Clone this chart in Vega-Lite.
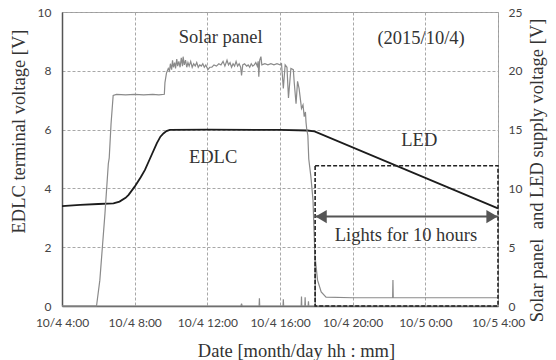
{
  "$schema": "https://vega.github.io/schema/vega-lite/v6.json",
  "width": 436,
  "height": 294,
  "autosize": {"type": "none"},
  "padding": {"left": 62, "top": 12, "right": 58, "bottom": 54},
  "background": "white",
  "config": {
    "view": {"stroke": "#9a9a9a", "strokeWidth": 1},
    "axis": {
      "labelFont": "Lato",
      "labelFontSize": 12,
      "labelColor": "#444444",
      "titleFont": "Liberation Serif, Times New Roman, DejaVu Serif, serif",
      "titleFontSize": 18.5,
      "titleFontWeight": "normal",
      "titleColor": "#333333",
      "ticks": false,
      "gridColor": "#a8a8a8",
      "gridDash": [3, 2],
      "gridWidth": 1,
      "domainColor": "#555555",
      "domainWidth": 1.5
    }
  },
  "datasets": {
    "edlc": [
      {"time": "2015-10-04T04:00", "v": 3.40},
      {"time": "2015-10-04T05:00", "v": 3.44},
      {"time": "2015-10-04T06:00", "v": 3.47},
      {"time": "2015-10-04T06:50", "v": 3.49},
      {"time": "2015-10-04T07:10", "v": 3.55},
      {"time": "2015-10-04T07:30", "v": 3.68},
      {"time": "2015-10-04T07:40", "v": 3.78},
      {"time": "2015-10-04T08:00", "v": 4.06},
      {"time": "2015-10-04T08:20", "v": 4.38},
      {"time": "2015-10-04T08:34", "v": 4.63},
      {"time": "2015-10-04T08:50", "v": 5.00},
      {"time": "2015-10-04T09:13", "v": 5.53},
      {"time": "2015-10-04T09:25", "v": 5.76},
      {"time": "2015-10-04T09:35", "v": 5.87},
      {"time": "2015-10-04T09:45", "v": 5.95},
      {"time": "2015-10-04T09:56", "v": 5.99},
      {"time": "2015-10-04T12:00", "v": 6.00},
      {"time": "2015-10-04T16:00", "v": 5.99},
      {"time": "2015-10-04T17:30", "v": 5.97},
      {"time": "2015-10-04T17:54", "v": 5.94},
      {"time": "2015-10-05T04:00", "v": 3.32}
    ],
    "supply": [
      {"series": "Solar panel", "time": "2015-10-04T04:00", "v": 0},
      {"series": "Solar panel", "time": "2015-10-04T05:54", "v": 0},
      {"series": "Solar panel", "time": "2015-10-04T06:05", "v": 2.2},
      {"series": "Solar panel", "time": "2015-10-04T06:22", "v": 7.9},
      {"series": "Solar panel", "time": "2015-10-04T06:33", "v": 12.1},
      {"series": "Solar panel", "time": "2015-10-04T06:36", "v": 12.6},
      {"series": "Solar panel", "time": "2015-10-04T06:42", "v": 15.5},
      {"series": "Solar panel", "time": "2015-10-04T06:49", "v": 17.9},
      {"series": "Solar panel", "time": "2015-10-04T07:00", "v": 18.0},
      {"series": "Solar panel", "time": "2015-10-04T07:30", "v": 17.95},
      {"series": "Solar panel", "time": "2015-10-04T08:00", "v": 18.0},
      {"series": "Solar panel", "time": "2015-10-04T08:30", "v": 17.95},
      {"series": "Solar panel", "time": "2015-10-04T09:00", "v": 18.0},
      {"series": "Solar panel", "time": "2015-10-04T09:20", "v": 17.95},
      {"series": "Solar panel", "time": "2015-10-04T09:38", "v": 18.0},
      {"series": "Solar panel", "time": "2015-10-04T09:40", "v": 19.0},
      {"series": "Solar panel", "time": "2015-10-04T09:45", "v": 19.8},
      {"series": "Solar panel", "time": "2015-10-04T09:51", "v": 20.2},
      {"series": "Solar panel", "time": "2015-10-04T09:55", "v": 20.0},
      {"series": "Solar panel", "time": "2015-10-04T09:58", "v": 20.6},
      {"series": "Solar panel", "time": "2015-10-04T10:02", "v": 20.1},
      {"series": "Solar panel", "time": "2015-10-04T10:05", "v": 20.9},
      {"series": "Solar panel", "time": "2015-10-04T10:08", "v": 20.3},
      {"series": "Solar panel", "time": "2015-10-04T10:12", "v": 20.7},
      {"series": "Solar panel", "time": "2015-10-04T10:15", "v": 20.2},
      {"series": "Solar panel", "time": "2015-10-04T10:19", "v": 21.0},
      {"series": "Solar panel", "time": "2015-10-04T10:22", "v": 20.4},
      {"series": "Solar panel", "time": "2015-10-04T10:26", "v": 20.8},
      {"series": "Solar panel", "time": "2015-10-04T10:30", "v": 20.3},
      {"series": "Solar panel", "time": "2015-10-04T10:34", "v": 21.1},
      {"series": "Solar panel", "time": "2015-10-04T10:38", "v": 20.4},
      {"series": "Solar panel", "time": "2015-10-04T10:40", "v": 21.2},
      {"series": "Solar panel", "time": "2015-10-04T10:44", "v": 20.5},
      {"series": "Solar panel", "time": "2015-10-04T10:48", "v": 20.9},
      {"series": "Solar panel", "time": "2015-10-04T10:52", "v": 20.3},
      {"series": "Solar panel", "time": "2015-10-04T10:56", "v": 20.7},
      {"series": "Solar panel", "time": "2015-10-04T11:00", "v": 20.4},
      {"series": "Solar panel", "time": "2015-10-04T11:05", "v": 20.8},
      {"series": "Solar panel", "time": "2015-10-04T11:10", "v": 20.3},
      {"series": "Solar panel", "time": "2015-10-04T11:15", "v": 20.6},
      {"series": "Solar panel", "time": "2015-10-04T11:20", "v": 20.4},
      {"series": "Solar panel", "time": "2015-10-04T11:25", "v": 20.7},
      {"series": "Solar panel", "time": "2015-10-04T11:30", "v": 20.3},
      {"series": "Solar panel", "time": "2015-10-04T11:35", "v": 20.5},
      {"series": "Solar panel", "time": "2015-10-04T11:40", "v": 20.4},
      {"series": "Solar panel", "time": "2015-10-04T11:45", "v": 20.6},
      {"series": "Solar panel", "time": "2015-10-04T11:50", "v": 20.3},
      {"series": "Solar panel", "time": "2015-10-04T11:55", "v": 20.5},
      {"series": "Solar panel", "time": "2015-10-04T12:02", "v": 20.1},
      {"series": "Solar panel", "time": "2015-10-04T12:08", "v": 20.3},
      {"series": "Solar panel", "time": "2015-10-04T12:15", "v": 20.3},
      {"series": "Solar panel", "time": "2015-10-04T12:22", "v": 20.5},
      {"series": "Solar panel", "time": "2015-10-04T12:30", "v": 20.4},
      {"series": "Solar panel", "time": "2015-10-04T12:38", "v": 20.6},
      {"series": "Solar panel", "time": "2015-10-04T12:45", "v": 20.5},
      {"series": "Solar panel", "time": "2015-10-04T12:52", "v": 20.8},
      {"series": "Solar panel", "time": "2015-10-04T12:58", "v": 20.4},
      {"series": "Solar panel", "time": "2015-10-04T13:05", "v": 20.9},
      {"series": "Solar panel", "time": "2015-10-04T13:10", "v": 20.5},
      {"series": "Solar panel", "time": "2015-10-04T13:15", "v": 20.7},
      {"series": "Solar panel", "time": "2015-10-04T13:20", "v": 20.3},
      {"series": "Solar panel", "time": "2015-10-04T13:25", "v": 20.6},
      {"series": "Solar panel", "time": "2015-10-04T13:30", "v": 20.4},
      {"series": "Solar panel", "time": "2015-10-04T13:35", "v": 20.8},
      {"series": "Solar panel", "time": "2015-10-04T13:40", "v": 20.4},
      {"series": "Solar panel", "time": "2015-10-04T13:45", "v": 20.6},
      {"series": "Solar panel", "time": "2015-10-04T13:50", "v": 20.3},
      {"series": "Solar panel", "time": "2015-10-04T13:53", "v": 19.6},
      {"series": "Solar panel", "time": "2015-10-04T13:57", "v": 20.5},
      {"series": "Solar panel", "time": "2015-10-04T14:03", "v": 20.6},
      {"series": "Solar panel", "time": "2015-10-04T14:10", "v": 20.4},
      {"series": "Solar panel", "time": "2015-10-04T14:15", "v": 20.5},
      {"series": "Solar panel", "time": "2015-10-04T14:20", "v": 20.3},
      {"series": "Solar panel", "time": "2015-10-04T14:25", "v": 20.6},
      {"series": "Solar panel", "time": "2015-10-04T14:30", "v": 20.4},
      {"series": "Solar panel", "time": "2015-10-04T14:35", "v": 20.5},
      {"series": "Solar panel", "time": "2015-10-04T14:40", "v": 20.7},
      {"series": "Solar panel", "time": "2015-10-04T14:45", "v": 20.4},
      {"series": "Solar panel", "time": "2015-10-04T14:48", "v": 20.8},
      {"series": "Solar panel", "time": "2015-10-04T14:50", "v": 19.5},
      {"series": "Solar panel", "time": "2015-10-04T14:53", "v": 20.9},
      {"series": "Solar panel", "time": "2015-10-04T14:57", "v": 21.2},
      {"series": "Solar panel", "time": "2015-10-04T15:00", "v": 20.5},
      {"series": "Solar panel", "time": "2015-10-04T15:10", "v": 20.6},
      {"series": "Solar panel", "time": "2015-10-04T15:20", "v": 20.5},
      {"series": "Solar panel", "time": "2015-10-04T15:30", "v": 20.6},
      {"series": "Solar panel", "time": "2015-10-04T15:40", "v": 20.5},
      {"series": "Solar panel", "time": "2015-10-04T15:50", "v": 20.6},
      {"series": "Solar panel", "time": "2015-10-04T16:00", "v": 20.5},
      {"series": "Solar panel", "time": "2015-10-04T16:05", "v": 20.6},
      {"series": "Solar panel", "time": "2015-10-04T16:11", "v": 18.5},
      {"series": "Solar panel", "time": "2015-10-04T16:17", "v": 20.5},
      {"series": "Solar panel", "time": "2015-10-04T16:23", "v": 20.3},
      {"series": "Solar panel", "time": "2015-10-04T16:28", "v": 17.7},
      {"series": "Solar panel", "time": "2015-10-04T16:36", "v": 20.2},
      {"series": "Solar panel", "time": "2015-10-04T16:44", "v": 20.1},
      {"series": "Solar panel", "time": "2015-10-04T16:47", "v": 19.0},
      {"series": "Solar panel", "time": "2015-10-04T16:53", "v": 17.2},
      {"series": "Solar panel", "time": "2015-10-04T16:58", "v": 19.1},
      {"series": "Solar panel", "time": "2015-10-04T17:03", "v": 18.5},
      {"series": "Solar panel", "time": "2015-10-04T17:11", "v": 16.8},
      {"series": "Solar panel", "time": "2015-10-04T17:16", "v": 17.1},
      {"series": "Solar panel", "time": "2015-10-04T17:20", "v": 16.1},
      {"series": "Solar panel", "time": "2015-10-04T17:24", "v": 16.5},
      {"series": "Solar panel", "time": "2015-10-04T17:26", "v": 15.6},
      {"series": "Solar panel", "time": "2015-10-04T17:28", "v": 15.1},
      {"series": "Solar panel", "time": "2015-10-04T17:32", "v": 14.5},
      {"series": "Solar panel", "time": "2015-10-04T17:35", "v": 12.5},
      {"series": "Solar panel", "time": "2015-10-04T17:42", "v": 11.0},
      {"series": "Solar panel", "time": "2015-10-04T17:49", "v": 9.0},
      {"series": "Solar panel", "time": "2015-10-04T17:55", "v": 4.5},
      {"series": "Solar panel", "time": "2015-10-04T17:57", "v": 0},
      {"series": "Solar panel", "time": "2015-10-05T04:00", "v": 0},
      {"series": "LED", "time": "2015-10-04T04:00", "v": 0},
      {"series": "LED", "time": "2015-10-04T13:51", "v": 0},
      {"series": "LED", "time": "2015-10-04T13:53", "v": 0.2},
      {"series": "LED", "time": "2015-10-04T13:55", "v": 0},
      {"series": "LED", "time": "2015-10-04T14:51", "v": 0},
      {"series": "LED", "time": "2015-10-04T14:52", "v": 0.65},
      {"series": "LED", "time": "2015-10-04T14:53", "v": 0},
      {"series": "LED", "time": "2015-10-04T16:10", "v": 0},
      {"series": "LED", "time": "2015-10-04T16:11", "v": 0.57},
      {"series": "LED", "time": "2015-10-04T16:12", "v": 0},
      {"series": "LED", "time": "2015-10-04T17:10", "v": 0},
      {"series": "LED", "time": "2015-10-04T17:11", "v": 0.8},
      {"series": "LED", "time": "2015-10-04T17:12", "v": 0},
      {"series": "LED", "time": "2015-10-04T17:22", "v": 0},
      {"series": "LED", "time": "2015-10-04T17:23", "v": 0.75},
      {"series": "LED", "time": "2015-10-04T17:24", "v": 0},
      {"series": "LED", "time": "2015-10-04T17:33", "v": 0},
      {"series": "LED", "time": "2015-10-04T17:34", "v": 0.4},
      {"series": "LED", "time": "2015-10-04T17:35", "v": 0},
      {"series": "LED", "time": "2015-10-04T17:56", "v": 0},
      {"series": "LED", "time": "2015-10-04T17:57", "v": 3.9},
      {"series": "LED", "time": "2015-10-04T18:04", "v": 2.2},
      {"series": "LED", "time": "2015-10-04T18:16", "v": 1.2},
      {"series": "LED", "time": "2015-10-04T18:32", "v": 0.75},
      {"series": "LED", "time": "2015-10-04T20:00", "v": 0.7},
      {"series": "LED", "time": "2015-10-04T22:12", "v": 0.7},
      {"series": "LED", "time": "2015-10-04T22:13", "v": 2.2},
      {"series": "LED", "time": "2015-10-04T22:14", "v": 0.7},
      {"series": "LED", "time": "2015-10-05T04:00", "v": 0.7}
    ],
    "lighting": [
      {"time": "2015-10-04T17:56", "end": "2015-10-05T04:00", "v": 0, "top": 11.93, "arrow": 7.6}
    ],
    "notes": [
      {"time": "2015-10-04T12:44", "v": 9.14, "label": "Solar panel"},
      {"time": "2015-10-04T23:46", "v": 9.1, "label": "(2015/10/4)"},
      {"time": "2015-10-04T12:19", "v": 5.08, "label": "EDLC"},
      {"time": "2015-10-04T23:40", "v": 5.65, "label": "LED"},
      {"time": "2015-10-04T22:56", "v": 2.41, "label": "Lights for 10 hours"}
    ]
  },
  "encoding": {
    "x": {
      "field": "time",
      "type": "temporal",
      "scale": {
        "domain": [
          {"year": 2015, "month": 10, "date": 4, "hours": 4},
          {"year": 2015, "month": 10, "date": 5, "hours": 4}
        ]
      },
      "axis": {
        "title": "Date [month/day hh : mm]",
        "format": "%-m/%-d %-H:%M",
        "values": [
          {"year": 2015, "month": 10, "date": 4, "hours": 4},
          {"year": 2015, "month": 10, "date": 4, "hours": 8},
          {"year": 2015, "month": 10, "date": 4, "hours": 12},
          {"year": 2015, "month": 10, "date": 4, "hours": 16},
          {"year": 2015, "month": 10, "date": 4, "hours": 20},
          {"year": 2015, "month": 10, "date": 5, "hours": 0},
          {"year": 2015, "month": 10, "date": 5, "hours": 4}
        ],
        "labelPadding": 11,
        "labelFlush": false,
        "labelOverlap": false,
        "titlePadding": 13,
        "titleX": 234
      }
    }
  },
  "layer": [
    {
      "encoding": {
        "y": {
          "field": "v",
          "type": "quantitative",
          "scale": {"domain": [0, 10], "nice": false},
          "axis": {
            "orient": "left",
            "title": "EDLC terminal voltage [V]",
            "values": [0, 2, 4, 6, 8, 10],
            "labelPadding": 11,
            "titleX": -34,
            "titleY": 119
          }
        }
      },
      "layer": [
        {
          "data": {"name": "edlc"},
          "mark": {"type": "line", "color": "#1c1c1c", "strokeWidth": 1.8}
        },
        {
          "data": {"name": "notes"},
          "mark": {
            "type": "text",
            "font": "Liberation Serif, Times New Roman, DejaVu Serif, serif",
            "fontSize": 18.5,
            "color": "#333333",
            "align": "center",
            "baseline": "middle"
          },
          "encoding": {"text": {"field": "label"}}
        }
      ]
    },
    {
      "encoding": {
        "y": {
          "field": "v",
          "type": "quantitative",
          "scale": {"domain": [0, 25], "nice": false},
          "axis": {
            "orient": "right",
            "title": "Solar panel\u00a0 and LED supply voltage [V]",
            "values": [0, 5, 10, 15, 20, 25],
            "grid": false,
            "domain": false,
            "labelPadding": 10,
            "titleAngle": -90,
            "titleX": 48,
            "titleY": 158
          }
        }
      },
      "layer": [
        {
          "data": {"name": "supply"},
          "mark": {"type": "line", "color": "#8a8a8a", "strokeWidth": 1.2},
          "encoding": {"detail": {"field": "series"}}
        },
        {
          "data": {"name": "lighting"},
          "mark": {
            "type": "rect",
            "fillOpacity": 0,
            "stroke": "#222222",
            "strokeWidth": 1.6,
            "strokeDash": [4, 2]
          },
          "encoding": {
            "x2": {"field": "end"},
            "y2": {"field": "top"}
          }
        },
        {
          "data": {"name": "lighting"},
          "mark": {"type": "rule", "color": "#555555", "strokeWidth": 2},
          "encoding": {
            "x2": {"field": "end"},
            "y": {"field": "arrow", "type": "quantitative"}
          }
        },
        {
          "data": {"name": "lighting"},
          "mark": {
            "type": "point",
            "shape": "triangle-left",
            "filled": true,
            "color": "#555555",
            "opacity": 1,
            "size": 170,
            "xOffset": 6
          },
          "encoding": {
            "y": {"field": "arrow", "type": "quantitative"}
          }
        },
        {
          "data": {"name": "lighting"},
          "mark": {
            "type": "point",
            "shape": "triangle-right",
            "filled": true,
            "color": "#555555",
            "opacity": 1,
            "size": 170,
            "xOffset": -6
          },
          "encoding": {
            "x": {"field": "end", "type": "temporal"},
            "y": {"field": "arrow", "type": "quantitative"}
          }
        }
      ]
    }
  ],
  "resolve": {"scale": {"y": "independent"}, "axis": {"y": "independent"}}
}
